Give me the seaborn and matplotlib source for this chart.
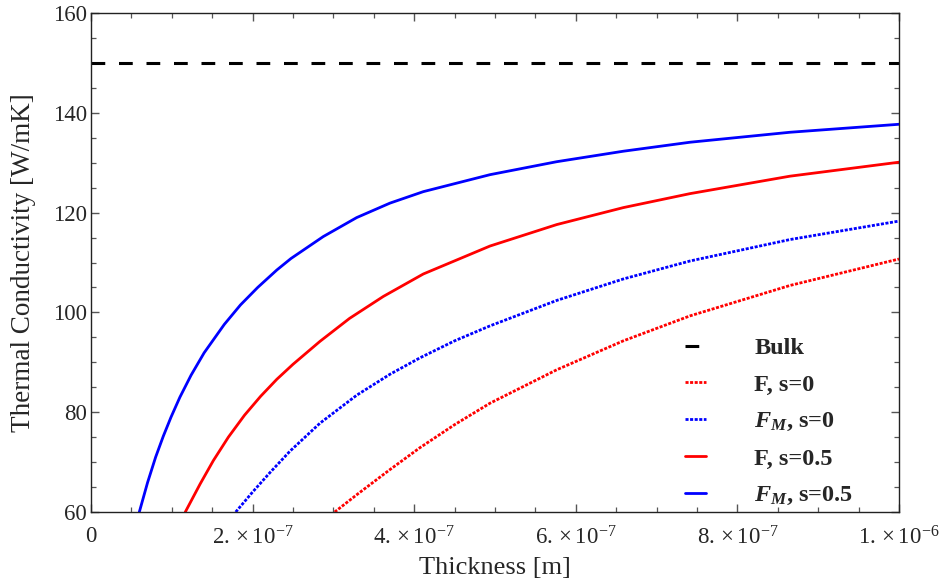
import matplotlib
matplotlib.use("Agg")
import matplotlib.pyplot as plt
from matplotlib.ticker import MultipleLocator
import seaborn as sns

# values
# thickness in units of 1e-7 m, conductivity in W/mK
SCALE = 1e-7
bulk_k = 150
bulk_x = [0, 10]

f_s0_x = [3.016, 3.3, 3.7, 4.072, 4.5, 4.938, 5.764, 6.588, 7.413, 8.651, 10.0]
f_s0_k = [60.0, 63.6, 68.5, 72.9, 77.5, 81.8, 88.5, 94.3, 99.3, 105.4, 110.7]

fm_s0_x = [1.791, 2.0, 2.215, 2.463, 2.834, 3.288, 3.700, 4.072, 4.5, 4.938,
           5.764, 6.588, 7.413, 8.651, 10.0]
fm_s0_k = [60.0, 64.0, 67.9, 72.2, 77.8, 83.4, 87.6, 90.9, 94.3, 97.3,
           102.4, 106.7, 110.3, 114.6, 118.3]

f_s05_x = [1.167, 1.35, 1.514, 1.70, 1.90, 2.10, 2.30, 2.50, 2.834, 3.20,
           3.618, 4.113, 4.938, 5.764, 6.588, 7.413, 8.651, 10.0]
f_s05_k = [60.0, 65.6, 70.3, 75.0, 79.4, 83.2, 86.6, 89.6, 94.2, 98.8,
           103.2, 107.7, 113.3, 117.6, 121.0, 123.8, 127.3, 130.1]

fm_s05_x = [0.598, 0.70, 0.80, 0.895, 0.99, 1.10, 1.238, 1.40, 1.65, 1.85,
            2.063, 2.30, 2.475, 2.875, 3.288, 3.70, 4.113, 4.938, 5.764,
            6.588, 7.413, 8.651, 10.0]
fm_s05_k = [60.0, 65.9, 71.0, 75.2, 79.0, 83.0, 87.4, 91.9, 97.6, 101.5,
            105.0, 108.5, 110.8, 115.2, 119.0, 121.9, 124.2, 127.6, 130.2,
            132.3, 134.1, 136.1, 137.7]

xtick_pos = [0, 2, 4, 6, 8, 10]
xtick_labels = ["0", r"$2.\times10^{-7}$", r"$4.\times10^{-7}$",
                r"$6.\times10^{-7}$", r"$8.\times10^{-7}$", r"$1.\times10^{-6}$"]
ytick_pos = [60, 80, 100, 120, 140, 160]

sns.set_style("ticks")
plt.rcParams["font.family"] = ["Liberation Serif", "DejaVu Serif"]
plt.rcParams["mathtext.fontset"] = "custom"
plt.rcParams["mathtext.rm"] = "Liberation Serif"
plt.rcParams["mathtext.it"] = "Liberation Serif:italic"
plt.rcParams["mathtext.bf"] = "Liberation Serif:bold"
plt.rcParams["mathtext.bfit"] = "Liberation Serif:bold:italic"

fig = plt.figure(figsize=(9.48, 5.87), dpi=100)
ax = fig.add_axes([91 / 948, 1 - 512 / 587, (899 - 91) / 948, (512 - 13) / 587])

lw = 2.0
sns.lineplot(x=[v * SCALE for v in bulk_x], y=[bulk_k, bulk_k], ax=ax,
             color="black", lw=2.2, label="Bulk")
ax.lines[-1].set_dashes((4.5, 4.5))
sns.lineplot(x=[v * SCALE for v in f_s0_x], y=f_s0_k, ax=ax, color="#ff0000",
             lw=lw, label="F, s=0", sort=False)
ax.lines[-1].set_dashes((1.1, 0.55))
sns.lineplot(x=[v * SCALE for v in fm_s0_x], y=fm_s0_k, ax=ax, color="#0000ff",
             lw=lw, label=r"$\mathbfit{F}_{\mathbfit{M}}$, s=0", sort=False)
ax.lines[-1].set_dashes((1.1, 0.55))
sns.lineplot(x=[v * SCALE for v in f_s05_x], y=f_s05_k, ax=ax, color="#ff0000",
             lw=lw, label="F, s=0.5", sort=False)
sns.lineplot(x=[v * SCALE for v in fm_s05_x], y=fm_s05_k, ax=ax, color="#0000ff",
             lw=lw, label=r"$\mathbfit{F}_{\mathbfit{M}}$, s=0.5", sort=False)

ax.set_xlim(0, 10 * SCALE)
ax.set_ylim(60, 160)
ax.set_xticks([v * SCALE for v in xtick_pos], xtick_labels)
ax.set_yticks(ytick_pos)
ax.xaxis.set_minor_locator(MultipleLocator(0.5 * SCALE))
ax.yaxis.set_minor_locator(MultipleLocator(5))
ax.tick_params(which="both", direction="in", top=True, right=True,
               color="#555555", labelsize=16.5)
ax.tick_params(axis="x", which="major", pad=10)
ax.tick_params(axis="y", which="major", pad=3)
ax.tick_params(which="major", length=6, width=1)
ax.tick_params(which="minor", length=3.5, width=0.9)
for s in ax.spines.values():
    s.set_color("#222222")
    s.set_linewidth(1.0)

ax.set_xlabel("Thickness [m]", fontsize=19, labelpad=6)
ax.set_ylabel("Thermal Conductivity [W/mK]", fontsize=19.5, labelpad=12)

leg = ax.legend(loc="upper left", bbox_to_anchor=(685 / 948, 1 - 337 / 587),
                bbox_transform=fig.transFigure, frameon=False, borderpad=0,
                borderaxespad=0, handlelength=0.85, handletextpad=2.0,
                labelspacing=0.6, prop={"weight": "bold", "size": 17.5})

fig.savefig("out.png", dpi=100)
